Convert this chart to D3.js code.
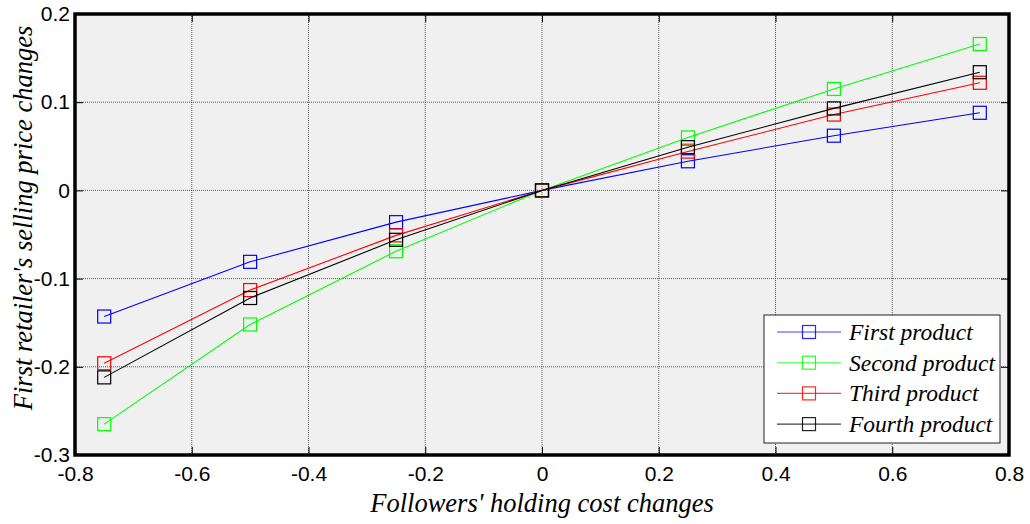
<!DOCTYPE html>
<html>
<head>
<meta charset="utf-8">
<script src="https://cdn.jsdelivr.net/npm/d3@7"></script>
<style>
  html, body { margin: 0; padding: 0; background: #fff; }
  svg { display: block; }
</style>
</head>
<body>
<svg id="chart" width="1030" height="524"></svg>
<script>
// Holding-cost change levels and the resulting price changes for each product
const costChanges = [-0.75, -0.5, -0.25, 0, 0.25, 0.5, 0.75];
const firstProduct  = [-0.143, -0.081, -0.036, 0, 0.033, 0.062, 0.088];
const secondProduct = [-0.265, -0.152, -0.069, 0, 0.060, 0.115, 0.166];
const thirdProduct  = [-0.196, -0.113, -0.051, 0, 0.044, 0.086, 0.122];
const fourthProduct = [-0.212, -0.122, -0.056, 0, 0.049, 0.093, 0.134];
const seriesNames = ["First product", "Second product", "Third product", "Fourth product"];
const seriesColors = ["#0000ff", "#00ff00", "#ff0000", "#000000"];
const xTicks = [-0.8, -0.6, -0.4, -0.2, 0, 0.2, 0.4, 0.6, 0.8];
const yTicks = [-0.3, -0.2, -0.1, 0, 0.1, 0.2];

const series = [firstProduct, secondProduct, thirdProduct, fourthProduct].map((vals, i) => ({
  name: seriesNames[i],
  color: seriesColors[i],
  points: vals.map((v, j) => ({ x: costChanges[j], y: v }))
}));

const svg = d3.select("#chart");
const margin = { left: 75, right: 21, top: 14, bottom: 69 };
const W = 1030, H = 524;
const pw = W - margin.left - margin.right;
const ph = H - margin.top - margin.bottom;

const x = d3.scaleLinear().domain([-0.8, 0.8]).range([margin.left, margin.left + pw]);
const y = d3.scaleLinear().domain([-0.3, 0.2]).range([margin.top + ph, margin.top]);

const serif = "'Liberation Serif', 'Times New Roman', serif";
const sans = "'Liberation Sans', Arial, sans-serif";

// Plot background
svg.append("rect")
  .attr("x", margin.left).attr("y", margin.top)
  .attr("width", pw).attr("height", ph)
  .attr("fill", "#f0f0f0");

// Dotted grid
const grid = svg.append("g");
grid.selectAll("line.vx").data(xTicks.slice(1, -1)).join("line")
  .attr("x1", d => x(d)).attr("x2", d => x(d))
  .attr("y1", margin.top).attr("y2", margin.top + ph)
  .attr("stroke", "#333").attr("stroke-width", 0.8).attr("stroke-dasharray", "1,1");
grid.selectAll("line.hy").data(yTicks.slice(1, -1)).join("line")
  .attr("y1", d => y(d)).attr("y2", d => y(d))
  .attr("x1", margin.left).attr("x2", margin.left + pw)
  .attr("stroke", "#333").attr("stroke-width", 0.8).attr("stroke-dasharray", "1,1");

// Tick labels use a plain hyphen for the minus sign
const fmt = d => d === 0 ? "0" : String(+d.toFixed(1));

// Axes with inward ticks on all four sides
const xAxisB = svg.append("g").attr("transform", `translate(0,${margin.top + ph})`)
  .call(d3.axisBottom(x).tickValues(xTicks).tickFormat(fmt).tickSizeInner(-8).tickSizeOuter(0).tickPadding(14));
const xAxisT = svg.append("g").attr("transform", `translate(0,${margin.top})`)
  .call(d3.axisTop(x).tickValues(xTicks).tickFormat("").tickSizeInner(-8).tickSizeOuter(0));
const yAxisL = svg.append("g").attr("transform", `translate(${margin.left},0)`)
  .call(d3.axisLeft(y).tickValues(yTicks).tickFormat(fmt).tickSizeInner(-8).tickSizeOuter(0).tickPadding(14));
const yAxisR = svg.append("g").attr("transform", `translate(${margin.left + pw},0)`)
  .call(d3.axisRight(y).tickValues(yTicks).tickFormat("").tickSizeInner(-8).tickSizeOuter(0));

[xAxisB, xAxisT, yAxisL, yAxisR].forEach(g => {
  g.select(".domain").remove();
  g.selectAll(".tick line").attr("stroke", "#000").attr("stroke-width", 1);
  g.selectAll("text").attr("fill", "#000")
    .style("font-family", sans).style("font-size", "21px");
});
yAxisL.selectAll("text").attr("x", -5);
xAxisB.selectAll("text").attr("y", 11);

// Series lines and open square markers
const line = d3.line().x(d => x(d.x)).y(d => y(d.y));
const plot = svg.append("g");
series.forEach(s => {
  plot.append("path").datum(s.points)
    .attr("d", line).attr("fill", "none")
    .attr("stroke", s.color).attr("stroke-width", 1.1);
  plot.selectAll(null).data(s.points).join("rect")
    .attr("x", d => x(d.x) - 6.5).attr("y", d => y(d.y) - 6.5)
    .attr("width", 13).attr("height", 13)
    .attr("fill", "none").attr("stroke", s.color).attr("stroke-width", 1.2);
});

// Heavy frame
svg.append("rect")
  .attr("x", margin.left).attr("y", margin.top)
  .attr("width", pw).attr("height", ph)
  .attr("fill", "none").attr("stroke", "#000").attr("stroke-width", 3.5);

// Legend
const lg = svg.append("g").attr("transform", "translate(764,315)");
lg.append("rect").attr("width", 236).attr("height", 128)
  .attr("fill", "#fff").attr("stroke", "#222").attr("stroke-width", 1);
series.forEach((s, i) => {
  const cy = 17 + i * 30.7;
  lg.append("line").attr("x1", 13).attr("x2", 77).attr("y1", cy).attr("y2", cy)
    .attr("stroke", s.color).attr("stroke-width", 1.1).attr("stroke-opacity", 0.75);
  lg.append("rect").attr("x", 45 - 6.5).attr("y", cy - 6.5).attr("width", 13).attr("height", 13)
    .attr("fill", "none").attr("stroke", s.color).attr("stroke-width", 1.2).attr("stroke-opacity", 0.85);
  lg.append("text").attr("x", 85).attr("y", cy + 8)
    .style("font-family", serif)
    .style("font-style", "italic").style("font-size", "23.5px")
    .attr("fill", "#000").text(s.name);
});

// Axis titles
svg.append("text")
  .attr("x", x(0)).attr("y", 512).attr("text-anchor", "middle")
  .style("font-family", serif)
  .style("font-style", "italic").style("font-size", "26.5px")
  .text("Followers' holding cost changes");
svg.append("text")
  .attr("transform", "translate(32,218) rotate(-90)").attr("text-anchor", "middle")
  .style("font-family", serif)
  .style("font-style", "italic").style("font-size", "26.5px")
  .text("First retailer's selling price changes");
</script>
</body>
</html>
